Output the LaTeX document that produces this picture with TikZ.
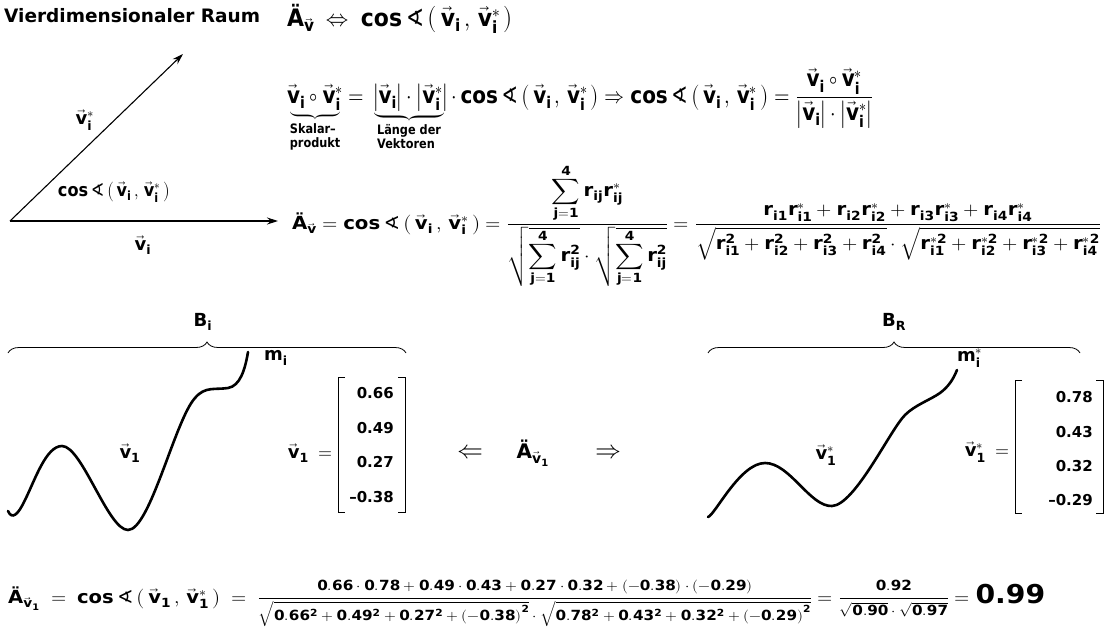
\documentclass[tikz,border=0pt]{standalone}
\usepackage{amsmath}
\usepackage{graphicx}
\usepackage[math-style=upright]{unicode-math}
\setmainfont{DejaVu Sans}[UprightFont={* Bold},BoldFont={* Bold}]
\newfontfamily\dejareg{DejaVu Sans}
\setmathfont{Latin Modern Math}
\setmathfont{DejaVu Sans Bold}[range={up/{Latin,latin,num}}]
\usetikzlibrary{arrows.meta,decorations.pathreplacing}
\newcommand\vecv{\vec{v}}
\newcommand\Auml{\text{Ä}}
\newcommand\ang{\mbox{\dejareg ∢}}
\newcommand\pair[2]{\left(\,#1\,,\,#2\,\right)}
\tikzset{
  base/.style={inner sep=0pt, font=\fontsize{18}{22}\selectfont},
  eq/.style={base, anchor=base west},
  vecarrow/.style={line width=1.1pt, -{Stealth[length=11pt,width=7pt]}},
  curve/.style={line width=2.6pt, line cap=round},
  bracebow/.style={decorate, decoration={brace, amplitude=11pt}, line width=0.8pt},
  bracket/.style={line width=1pt},
  entry/.style={inner sep=0pt, anchor=east, font=\fontsize{15}{18}\selectfont},
  dblarrow/.style={inner sep=0pt, font=\fontsize{26}{30}\selectfont}
}
\begin{document}
\begin{tikzpicture}[x=1pt,y=-1pt]
\useasboundingbox (0,0) rectangle (1109,637);
% title
\node[base, anchor=west, font=\fontsize{18.5}{22}\selectfont] (title) at (4,16) {Vierdimensionaler Raum};
% vectors
\coordinate (O) at (10,221);
\coordinate (P) at (183,54);
\coordinate (Q) at (278,221);
\draw[vecarrow] (O) -- (P);
\draw[vecarrow] (O) -- (Q);
\node[base] (lvs) at (85,120) {$\vecv_i^{*}$};
\node[base] (lang) at (114,192) {\resizebox{112pt}{\height}{$\cos\ang\pair{\vecv_i}{\vecv_i^{*}}$}};
\node[base] (lv) at (143,245) {$\vecv_i$};
% equations
\node[eq, font=\fontsize{24}{28}\selectfont] (e1) at (287,26) {\resizebox{226pt}{\height}{$\Auml_{\vecv} \;\Leftrightarrow\; \cos\ang\pair{\vecv_i}{\vecv_i^{*}}$}};
\node[eq, font=\fontsize{23}{27}\selectfont] (e2) at (287,103) {\resizebox{586pt}{\height}{$\underbrace{\vecv_i\circ\vecv_i^{*}}_{\mbox{\fontsize{13}{14}\selectfont\begin{tabular}{@{}l@{}}Skalar–\\produkt\end{tabular}}}
 = \underbrace{\left|\vecv_i\right|\cdot\left|\vecv_i^{*}\right|}_{\mbox{\fontsize{13}{14}\selectfont\begin{tabular}{@{}l@{}}Länge der\\Vektoren\end{tabular}}}
 \cdot\cos\ang\pair{\vecv_i}{\vecv_i^{*}}\Rightarrow\cos\ang\pair{\vecv_i}{\vecv_i^{*}}
 = \dfrac{\vecv_i\circ\vecv_i^{*}}{\left|\vecv_i\right|\cdot\left|\vecv_i^{*}\right|}$}};
\node[eq] (e3) at (292,229) {\resizebox{809pt}{\height}{$\displaystyle \Auml_{\vecv} = \cos\ang\pair{\vecv_i}{\vecv_i^{*}}
 = \frac{\displaystyle\sum_{j=1}^{4} r_{ij}r_{ij}^{*}}{\sqrt{\displaystyle\sum_{j=1}^{4} r_{ij}^{2}}\cdot\sqrt{\displaystyle\sum_{j=1}^{4} r_{ij}^{2}}}
 = \frac{r_{i1}r_{i1}^{*}+r_{i2}r_{i2}^{*}+r_{i3}r_{i3}^{*}+r_{i4}r_{i4}^{*}}{\sqrt{r_{i1}^{2}+r_{i2}^{2}+r_{i3}^{2}+r_{i4}^{2}}\cdot\sqrt{r_{i1}^{*2}+r_{i2}^{*2}+r_{i3}^{*2}+r_{i4}^{*2}}}$}};
% braces
\coordinate (bil) at (8,353);
\coordinate (bir) at (406,353);
\draw[bracebow] (bil) -- (bir);
\node[base] (Bi) at (203,322) {$B_i$};
\coordinate (brl) at (708,353);
\coordinate (brr) at (1080,353);
\draw[bracebow] (brl) -- (brr);
\node[base] (BR) at (894,322) {$B_R$};
% curves
\draw[curve] (8,511) .. controls (12,520) and (18,515) .. (25,500)
  .. controls (35,480) and (46,446) .. (62,446)
  .. controls (82,446) and (108,530) .. (128,530)
  .. controls (150,530) and (175,420) .. (195,398)
  .. controls (205,386) and (215,390) .. (228,388)
  .. controls (240,386) and (245,370) .. (248,352);
\node[base] (mi) at (276,358) {$m_i$};
\node[base] (v1) at (130,453) {$\vecv_1$};
\draw[curve] (708,517) .. controls (715,515) and (740,463) .. (765,463)
  .. controls (790,463) and (810,507) .. (832,506)
  .. controls (855,505) and (890,430) .. (905,415)
  .. controls (915,405) and (930,400) .. (940,393)
  .. controls (948,387) and (953,380) .. (957,370);
\node[base] (mis) at (970,358) {$m_i^{*}$};
\node[base] (v1s) at (826,455) {$\vecv_1^{*}$};
% left matrix
\node[base, anchor=east] (m1lab) at (333,453) {$\vecv_1 \;=$};
\draw[bracket] (345,377) -- (338,377) -- (338,512) -- (345,512);
\draw[bracket] (398,377) -- (405,377) -- (405,512) -- (398,512);
\node[entry] (a1) at (394,393) {0.66};
\node[entry] (a2) at (394,428) {0.49};
\node[entry] (a3) at (394,462) {0.27};
\node[entry] (a4) at (394,497) {–0.38};
% middle
\node[dblarrow] (larr) at (470,452) {$\Leftarrow$};
\node[base, font=\fontsize{20}{24}\selectfont] (Amid) at (533,453) {$\Auml_{\vecv_1}$};
\node[dblarrow] (rarr) at (608,452) {$\Rightarrow$};
% right matrix
\node[base, anchor=east] (m2lab) at (1010,452) {$\vecv_1^{*} \;=$};
\draw[bracket] (1022,380) -- (1015,380) -- (1015,513) -- (1022,513);
\draw[bracket] (1096,380) -- (1103,380) -- (1103,513) -- (1096,513);
\node[entry] (b1) at (1093,397) {0.78};
\node[entry] (b2) at (1093,432) {0.43};
\node[entry] (b3) at (1093,466) {0.32};
\node[entry] (b4) at (1093,500) {–0.29};
% bottom equation
\node[eq] (e4) at (8,603) {\resizebox{1037pt}{\height}{$\displaystyle \Auml_{\vecv_1} \;=\; \cos\ang\pair{\vecv_1}{\vecv_1^{*}}
 \;=\; \frac{\mbox{\fontsize{14}{17}\selectfont$0.66\cdot0.78+0.49\cdot0.43+0.27\cdot0.32+\left(-0.38\right)\cdot\left(-0.29\right)$}}
 {\mbox{\fontsize{14}{17}\selectfont$\sqrt{0.66^{2}+0.49^{2}+0.27^{2}+\left(-0.38\right)^{2}}\cdot\sqrt{0.78^{2}+0.43^{2}+0.32^{2}+\left(-0.29\right)^{2}}$}}
 = \frac{\mbox{\fontsize{14}{17}\selectfont$0.92$}}{\mbox{\fontsize{14}{17}\selectfont$\sqrt{0.90}\cdot\sqrt{0.97}$}}
 = \mbox{\fontsize{26}{30}\selectfont 0.99}$}};
\end{tikzpicture}
\end{document}
